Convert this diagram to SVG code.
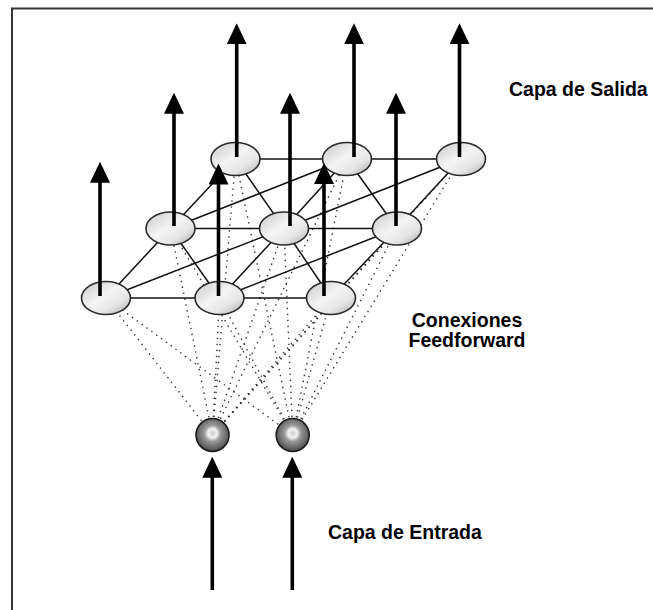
<svg xmlns="http://www.w3.org/2000/svg" width="653" height="610" viewBox="0 0 653 610">
<style>
.lbl{font-family:"Liberation Sans",Arial,sans-serif;font-weight:bold;font-size:19.5px;fill:#000}
.dot{stroke:#333;stroke-width:1.4;stroke-dasharray:1.4 4.6;fill:none}
.sol{stroke:#111;stroke-width:1.5;fill:none}
.arr{stroke:#000;stroke-width:3.6;fill:none;marker-end:url(#ah)}
.ov{fill:url(#og);stroke:#2a2a2a;stroke-width:1.6}
.in{fill:url(#ig);stroke:#1a1a1a;stroke-width:1.6}
</style>
<defs>
<marker id="ah" viewBox="0 0 21 20" refX="2" refY="10" markerWidth="21" markerHeight="20" markerUnits="userSpaceOnUse" orient="auto">
<path d="M0,0 L21,10 L0,20 Z" fill="#000"/>
</marker>
<linearGradient id="og" x1="0" y1="0" x2="1" y2="1">
<stop offset="0" stop-color="#c8c8c8"/>
<stop offset="0.45" stop-color="#f4f4f4"/>
<stop offset="0.7" stop-color="#e6e6e6"/>
<stop offset="1" stop-color="#a8a8a8"/>
</linearGradient>
<radialGradient id="ig" cx="0.5" cy="0.45" r="0.55">
<stop offset="0" stop-color="#cfcfcf"/>
<stop offset="0.25" stop-color="#f2f2f2"/>
<stop offset="0.45" stop-color="#9a9a9a"/>
<stop offset="1" stop-color="#4a4a4a"/>
</radialGradient>
</defs>
<rect width="653" height="610" fill="#fff"/>
<path d="M12,610 V8.5 H653" fill="none" stroke="#333" stroke-width="2"/>

<g id="connectors">
<g id="feedforward">
<line class="dot" x1="212.5" y1="435" x2="106" y2="298"/>
<line class="dot" x1="212.5" y1="435" x2="219.5" y2="298"/>
<line class="dot" x1="212.5" y1="435" x2="331" y2="298"/>
<line class="dot" x1="212.5" y1="435" x2="170.5" y2="228.5"/>
<line class="dot" x1="212.5" y1="435" x2="284" y2="228.5"/>
<line class="dot" x1="212.5" y1="435" x2="397" y2="228.5"/>
<line class="dot" x1="212.5" y1="435" x2="235.5" y2="159"/>
<line class="dot" x1="212.5" y1="435" x2="347" y2="159"/>
<line class="dot" x1="212.5" y1="435" x2="461" y2="159"/>
<line class="dot" x1="292.7" y1="435" x2="106" y2="298"/>
<line class="dot" x1="292.7" y1="435" x2="219.5" y2="298"/>
<line class="dot" x1="292.7" y1="435" x2="331" y2="298"/>
<line class="dot" x1="292.7" y1="435" x2="170.5" y2="228.5"/>
<line class="dot" x1="292.7" y1="435" x2="284" y2="228.5"/>
<line class="dot" x1="292.7" y1="435" x2="397" y2="228.5"/>
<line class="dot" x1="292.7" y1="435" x2="235.5" y2="159"/>
<line class="dot" x1="292.7" y1="435" x2="347" y2="159"/>
<line class="dot" x1="292.7" y1="435" x2="461" y2="159"/>
</g>
<g id="lateral">
<line class="sol" x1="106" y1="298" x2="331" y2="298"/>
<line class="sol" x1="170.5" y1="228.5" x2="397" y2="228.5"/>
<line class="sol" x1="235.5" y1="159" x2="461" y2="159"/>
<line class="sol" x1="106" y1="298" x2="170.5" y2="228.5"/>
<line class="sol" x1="106" y1="298" x2="284" y2="228.5"/>
<line class="sol" x1="219.5" y1="298" x2="170.5" y2="228.5"/>
<line class="sol" x1="219.5" y1="298" x2="284" y2="228.5"/>
<line class="sol" x1="219.5" y1="298" x2="397" y2="228.5"/>
<line class="sol" x1="331" y1="298" x2="284" y2="228.5"/>
<line class="sol" x1="331" y1="298" x2="397" y2="228.5"/>
<line class="sol" x1="170.5" y1="228.5" x2="235.5" y2="159"/>
<line class="sol" x1="170.5" y1="228.5" x2="347" y2="159"/>
<line class="sol" x1="284" y1="228.5" x2="235.5" y2="159"/>
<line class="sol" x1="284" y1="228.5" x2="347" y2="159"/>
<line class="sol" x1="284" y1="228.5" x2="461" y2="159"/>
<line class="sol" x1="397" y1="228.5" x2="347" y2="159"/>
<line class="sol" x1="397" y1="228.5" x2="461" y2="159"/>
</g>
</g>

<g id="out-b1"><ellipse class="ov" cx="235.5" cy="159" rx="24.5" ry="16.5"/><line class="arr" x1="236.7" y1="157" x2="236.7" y2="42.3"/></g>
<g id="out-b2"><ellipse class="ov" cx="347" cy="159" rx="24.5" ry="16.5"/><line class="arr" x1="354" y1="157" x2="354" y2="42.3"/></g>
<g id="out-b3"><ellipse class="ov" cx="461" cy="159" rx="24.5" ry="16.5"/><line class="arr" x1="459.5" y1="157" x2="459.5" y2="42.3"/></g>
<g id="out-m1"><ellipse class="ov" cx="170.5" cy="228.5" rx="24.5" ry="16.5"/><line class="arr" x1="174" y1="226" x2="174" y2="111.7"/></g>
<g id="out-m2"><ellipse class="ov" cx="284" cy="228.5" rx="24.5" ry="16.5"/><line class="arr" x1="290" y1="226" x2="290" y2="111.7"/></g>
<g id="out-m3"><ellipse class="ov" cx="397" cy="228.5" rx="24.5" ry="16.5"/><line class="arr" x1="396" y1="226" x2="396" y2="111.7"/></g>
<g id="out-f1"><ellipse class="ov" cx="106" cy="298" rx="24.5" ry="16.5"/><line class="arr" x1="100" y1="296" x2="100" y2="180.7"/></g>
<g id="out-f2"><ellipse class="ov" cx="219.5" cy="298" rx="24.5" ry="16.5"/><line class="arr" x1="218.5" y1="296" x2="218.5" y2="182.5"/></g>
<g id="out-f3"><ellipse class="ov" cx="331" cy="298" rx="24.5" ry="16.5"/><line class="arr" x1="324" y1="296" x2="324" y2="182"/></g>

<g id="in-1"><circle class="in" cx="212.5" cy="435" r="16.5"/><line class="arr" x1="212.3" y1="590" x2="212.3" y2="475.7"/></g>
<g id="in-2"><circle class="in" cx="292.7" cy="435" r="16.5"/><line class="arr" x1="292.3" y1="590" x2="292.3" y2="475.7"/></g>

<g id="labels">
<text class="lbl" x="509" y="96">Capa de Salida</text>
<text class="lbl" x="467" y="327" text-anchor="middle">Conexiones</text>
<text class="lbl" x="467" y="347" text-anchor="middle">Feedforward</text>
<text class="lbl" x="328" y="539">Capa de Entrada</text>
</g>
</svg>
